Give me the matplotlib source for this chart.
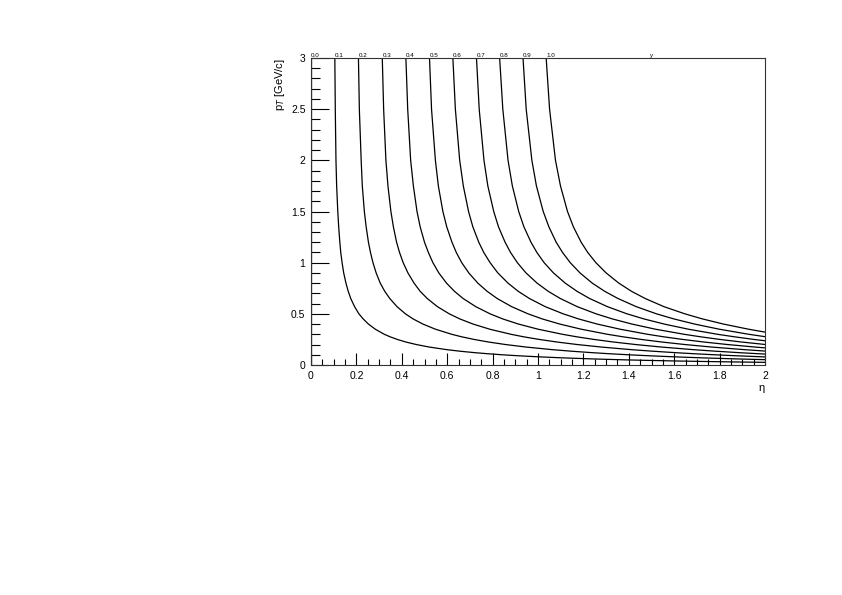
import matplotlib
matplotlib.use("Agg")
import matplotlib.pyplot as plt
from matplotlib.ticker import MultipleLocator

plt.rcParams['font.family'] = ['Liberation Sans', 'DejaVu Sans']

# rapidity labels of the curves
y_labels = ['0.0', '0.1', '0.2', '0.3', '0.4', '0.5', '0.6', '0.7', '0.8', '0.9', '1.0']

# pT points (GeV/c) shared by all curves, read from the top of the frame downwards
pt_grid = [3.0, 2.5, 2.0, 1.75, 1.5, 1.35, 1.2, 1.1, 1.0, 0.9, 0.8, 0.72, 0.65, 0.57,
           0.5, 0.45, 0.4, 0.35, 0.3, 0.275, 0.25, 0.225, 0.2, 0.175, 0.15, 0.135,
           0.12, 0.11, 0.1, 0.09, 0.08, 0.07, 0.06, 0.055, 0.05, 0.045, 0.04, 0.035,
           0.03]

# eta of each constant-y curve at the pT points above (until it leaves at eta = 2)
eta_y00 = [0.0, 0.0]
eta_y01 = [0.105, 0.107, 0.110, 0.113, 0.118, 0.122, 0.127, 0.131, 0.137, 0.144,
           0.154, 0.164, 0.175, 0.192, 0.211, 0.230, 0.253, 0.283, 0.323, 0.349,
           0.380, 0.417, 0.464, 0.522, 0.598, 0.655, 0.724, 0.779, 0.842, 0.915,
           1.002, 1.106, 1.233, 1.307, 1.389, 1.483, 1.590, 1.714, 1.860]
eta_y02 = [0.209, 0.213, 0.221, 0.226, 0.235, 0.243, 0.253, 0.262, 0.273, 0.287,
           0.305, 0.325, 0.347, 0.379, 0.416, 0.450, 0.493, 0.548, 0.620, 0.665,
           0.718, 0.781, 0.857, 0.949, 1.063, 1.146, 1.242, 1.315, 1.398, 1.491,
           1.598, 1.721, 1.866, 1.949]
eta_y03 = [0.314, 0.320, 0.330, 0.339, 0.352, 0.363, 0.377, 0.390, 0.406, 0.427,
           0.454, 0.481, 0.512, 0.557, 0.609, 0.656, 0.714, 0.787, 0.881, 0.938,
           1.005, 1.082, 1.173, 1.281, 1.411, 1.504, 1.609, 1.689, 1.777, 1.876,
           1.988]
eta_y04 = [0.418, 0.426, 0.439, 0.451, 0.467, 0.481, 0.500, 0.517, 0.537, 0.563,
           0.597, 0.632, 0.670, 0.726, 0.789, 0.845, 0.914, 1.000, 1.108, 1.172,
           1.246, 1.331, 1.430, 1.546, 1.684, 1.781, 1.891, 1.973]
eta_y05 = [0.522, 0.531, 0.548, 0.561, 0.581, 0.598, 0.621, 0.640, 0.664, 0.695,
           0.735, 0.776, 0.820, 0.884, 0.956, 1.019, 1.096, 1.190, 1.306, 1.376,
           1.454, 1.544, 1.647, 1.767, 1.909]
eta_y06 = [0.625, 0.636, 0.655, 0.671, 0.694, 0.713, 0.739, 0.761, 0.789, 0.823,
           0.868, 0.913, 0.962, 1.032, 1.111, 1.179, 1.261, 1.361, 1.483, 1.555,
           1.637, 1.729, 1.835, 1.958]
eta_y07 = [0.729, 0.741, 0.762, 0.779, 0.805, 0.826, 0.855, 0.879, 0.909, 0.947,
           0.996, 1.045, 1.098, 1.173, 1.256, 1.328, 1.414, 1.517, 1.644, 1.718,
           1.801, 1.895]
eta_y08 = [0.831, 0.845, 0.868, 0.887, 0.915, 0.938, 0.969, 0.995, 1.027, 1.068,
           1.120, 1.172, 1.227, 1.306, 1.392, 1.467, 1.556, 1.662, 1.791, 1.867,
           1.951]
eta_y09 = [0.934, 0.948, 0.973, 0.993, 1.023, 1.048, 1.080, 1.108, 1.142, 1.185,
           1.239, 1.294, 1.352, 1.433, 1.522, 1.599, 1.690, 1.798, 1.929]
eta_y10 = [1.036, 1.051, 1.077, 1.099, 1.130, 1.156, 1.190, 1.219, 1.255, 1.300,
           1.356, 1.412, 1.472, 1.555, 1.647, 1.725, 1.817, 1.927]

# pT where each curve reaches the right edge (eta = 2)
pt_at_eta2 = [3.0, 0.0259, 0.0522, 0.0790, 0.1069, 0.1362, 0.1673, 0.2006,
              0.2369, 0.2768, 0.3213]

curves = [eta_y00, eta_y01, eta_y02, eta_y03, eta_y04, eta_y05,
          eta_y06, eta_y07, eta_y08, eta_y09, eta_y10]

fig = plt.figure(figsize=(8.42, 5.95), dpi=100)
ax = fig.add_axes([311 / 842, 1 - 365 / 595, 454 / 842, 307 / 595])

for i, etas in enumerate(curves):
    if i == 0:
        xs, ys = etas, [0.0, pt_at_eta2[0]]
    else:
        xs = etas + [2.0]
        ys = pt_grid[:len(etas)] + [pt_at_eta2[i]]
    ax.plot(xs, ys, color='black', lw=0.9, solid_joinstyle='round')
    ax.text(etas[0], 3.0, y_labels[i], fontsize=4.5, ha='left', va='bottom')

ax.text(1.5, 3.0, 'y', fontsize=4.5, ha='center', va='bottom')

ax.set_xlim(0, 2)
ax.set_ylim(0, 3)

ax.xaxis.set_major_locator(MultipleLocator(0.2))
ax.xaxis.set_minor_locator(MultipleLocator(0.05))
ax.yaxis.set_major_locator(MultipleLocator(0.5))
ax.yaxis.set_minor_locator(MultipleLocator(0.1))
ax.xaxis.set_major_formatter(plt.FuncFormatter(lambda v, p: f'{v:g}'))
ax.yaxis.set_major_formatter(plt.FuncFormatter(lambda v, p: f'{v:g}'))

ax.tick_params(axis='x', which='major', direction='in', length=9, width=0.8,
               labelsize=7.5, pad=4, top=False)
ax.tick_params(axis='x', which='minor', direction='in', length=4.5, width=0.8, top=False)
ax.tick_params(axis='y', which='major', direction='in', length=13, width=0.8,
               labelsize=7.5, pad=4, right=False)
ax.tick_params(axis='y', which='minor', direction='in', length=6.5, width=0.8, right=False)

for s in ax.spines.values():
    s.set_linewidth(0.8)
    s.set_color('#333333')

ax.set_xlabel('η', fontsize=8, loc='right', labelpad=2)
ax.set_ylabel('p$_{T}$ [GeV/c]', fontsize=8, loc='top', labelpad=3)

fig.savefig('out.png', dpi=100)
